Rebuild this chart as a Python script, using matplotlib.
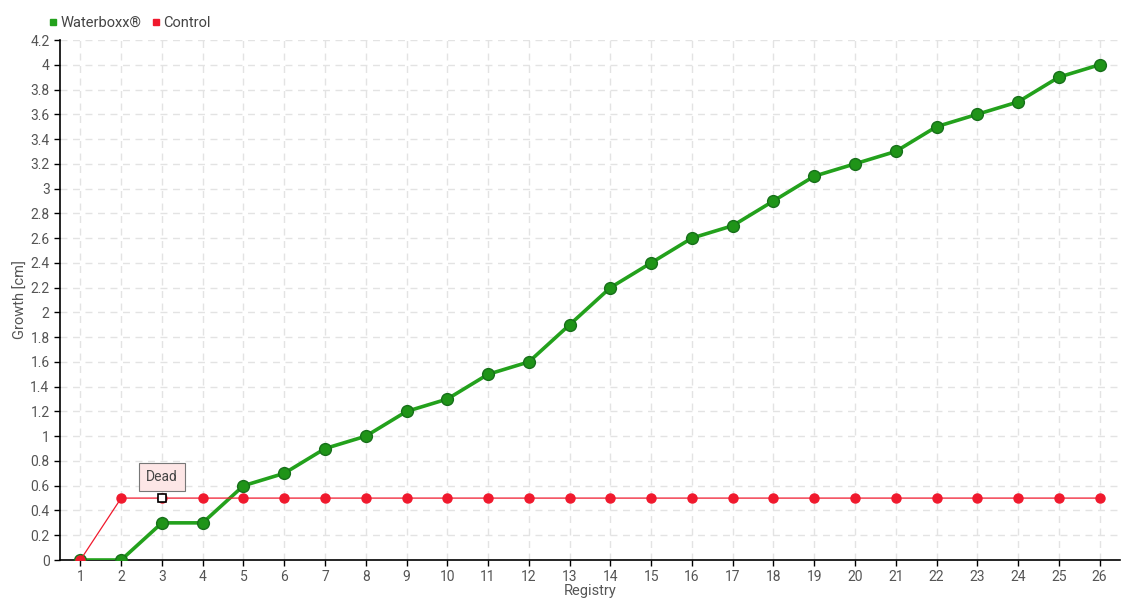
import numpy as np
import matplotlib.pyplot as plt
from matplotlib.lines import Line2D

registry = list(range(1, 27))
waterboxx = [0, 0, 0.3, 0.3, 0.6, 0.7, 0.9, 1.0, 1.2, 1.3, 1.5, 1.6, 1.9,
             2.2, 2.4, 2.6, 2.7, 2.9, 3.1, 3.2, 3.3, 3.5, 3.6, 3.7, 3.9, 4.0]
control = [0] + [0.5] * 25
dead_idx = 2  # registry 3
yticks = [round(0.2 * i, 1) for i in range(22)]

plt.rcParams['font.family'] = ['Roboto', 'DejaVu Sans']

fig = plt.figure(figsize=(11.4, 6), dpi=100)
ax = fig.add_axes([60/1140, 40/600, 1060/1140, 520/600])

green = '#23a11c'
red = '#f0192d'

ax.plot(registry, waterboxx, color=green, lw=2.6, zorder=3)
ax.plot(registry, waterboxx, 'o', ms=8.5, mfc='#1f9418', mec='#17701a', mew=1, zorder=4)

ax.plot(registry, control, color=red, lw=0.9, zorder=5)
ax.plot(registry, control, 'o', ms=6.5, mfc=red, mec=red, zorder=6)
# highlighted point
ax.plot(registry[dead_idx], control[dead_idx], 's', ms=5.5, mfc='white', mec='black', mew=1.2, zorder=7)

ax.annotate('Dead', xy=(registry[dead_idx], control[dead_idx]), xytext=(0, 15),
            textcoords='offset points', ha='center', va='center', fontsize=10, color='#444444',
            bbox=dict(boxstyle='square,pad=0.5', fc='#fde6e6', ec='#777777', lw=0.8),
            zorder=8)

ax.set_xlim(0.5, 26.5)
ax.set_ylim(0, 4.2)
ax.set_xticks(registry)
ax.set_yticks(yticks)
ax.set_yticklabels([('%g' % v) for v in yticks])
ax.tick_params(colors='#555555', labelsize=10, length=4, width=1)
ax.tick_params(axis='both', color='black')

ax.grid(True, color='#e3e3e3', ls=(0, (5, 4)), lw=1)
ax.set_axisbelow(True)
for s in ['top', 'right']:
    ax.spines[s].set_visible(False)
ax.spines['left'].set_linewidth(1.2)
ax.spines['bottom'].set_linewidth(1.2)

ax.set_xlabel('Registry', color='#555555', fontsize=10.5, labelpad=0)
ax.set_ylabel('Growth [cm]', color='#555555', fontsize=10.5)
ax.yaxis.set_label_coords(-0.03, 0.5)

handles = [Line2D([], [], marker='s', ls='', color=green, ms=5),
           Line2D([], [], marker='s', ls='', color=red, ms=5)]
fig.legend(handles, ['Waterboxx®', 'Control'], loc='upper left', bbox_to_anchor=(34/1140, 1 - 3/600),
           ncol=2, frameon=False, fontsize=10.5, handletextpad=0.1, columnspacing=0.6,
           handlelength=0.8, labelcolor='#444444')

fig.savefig('out.png', dpi=100)
